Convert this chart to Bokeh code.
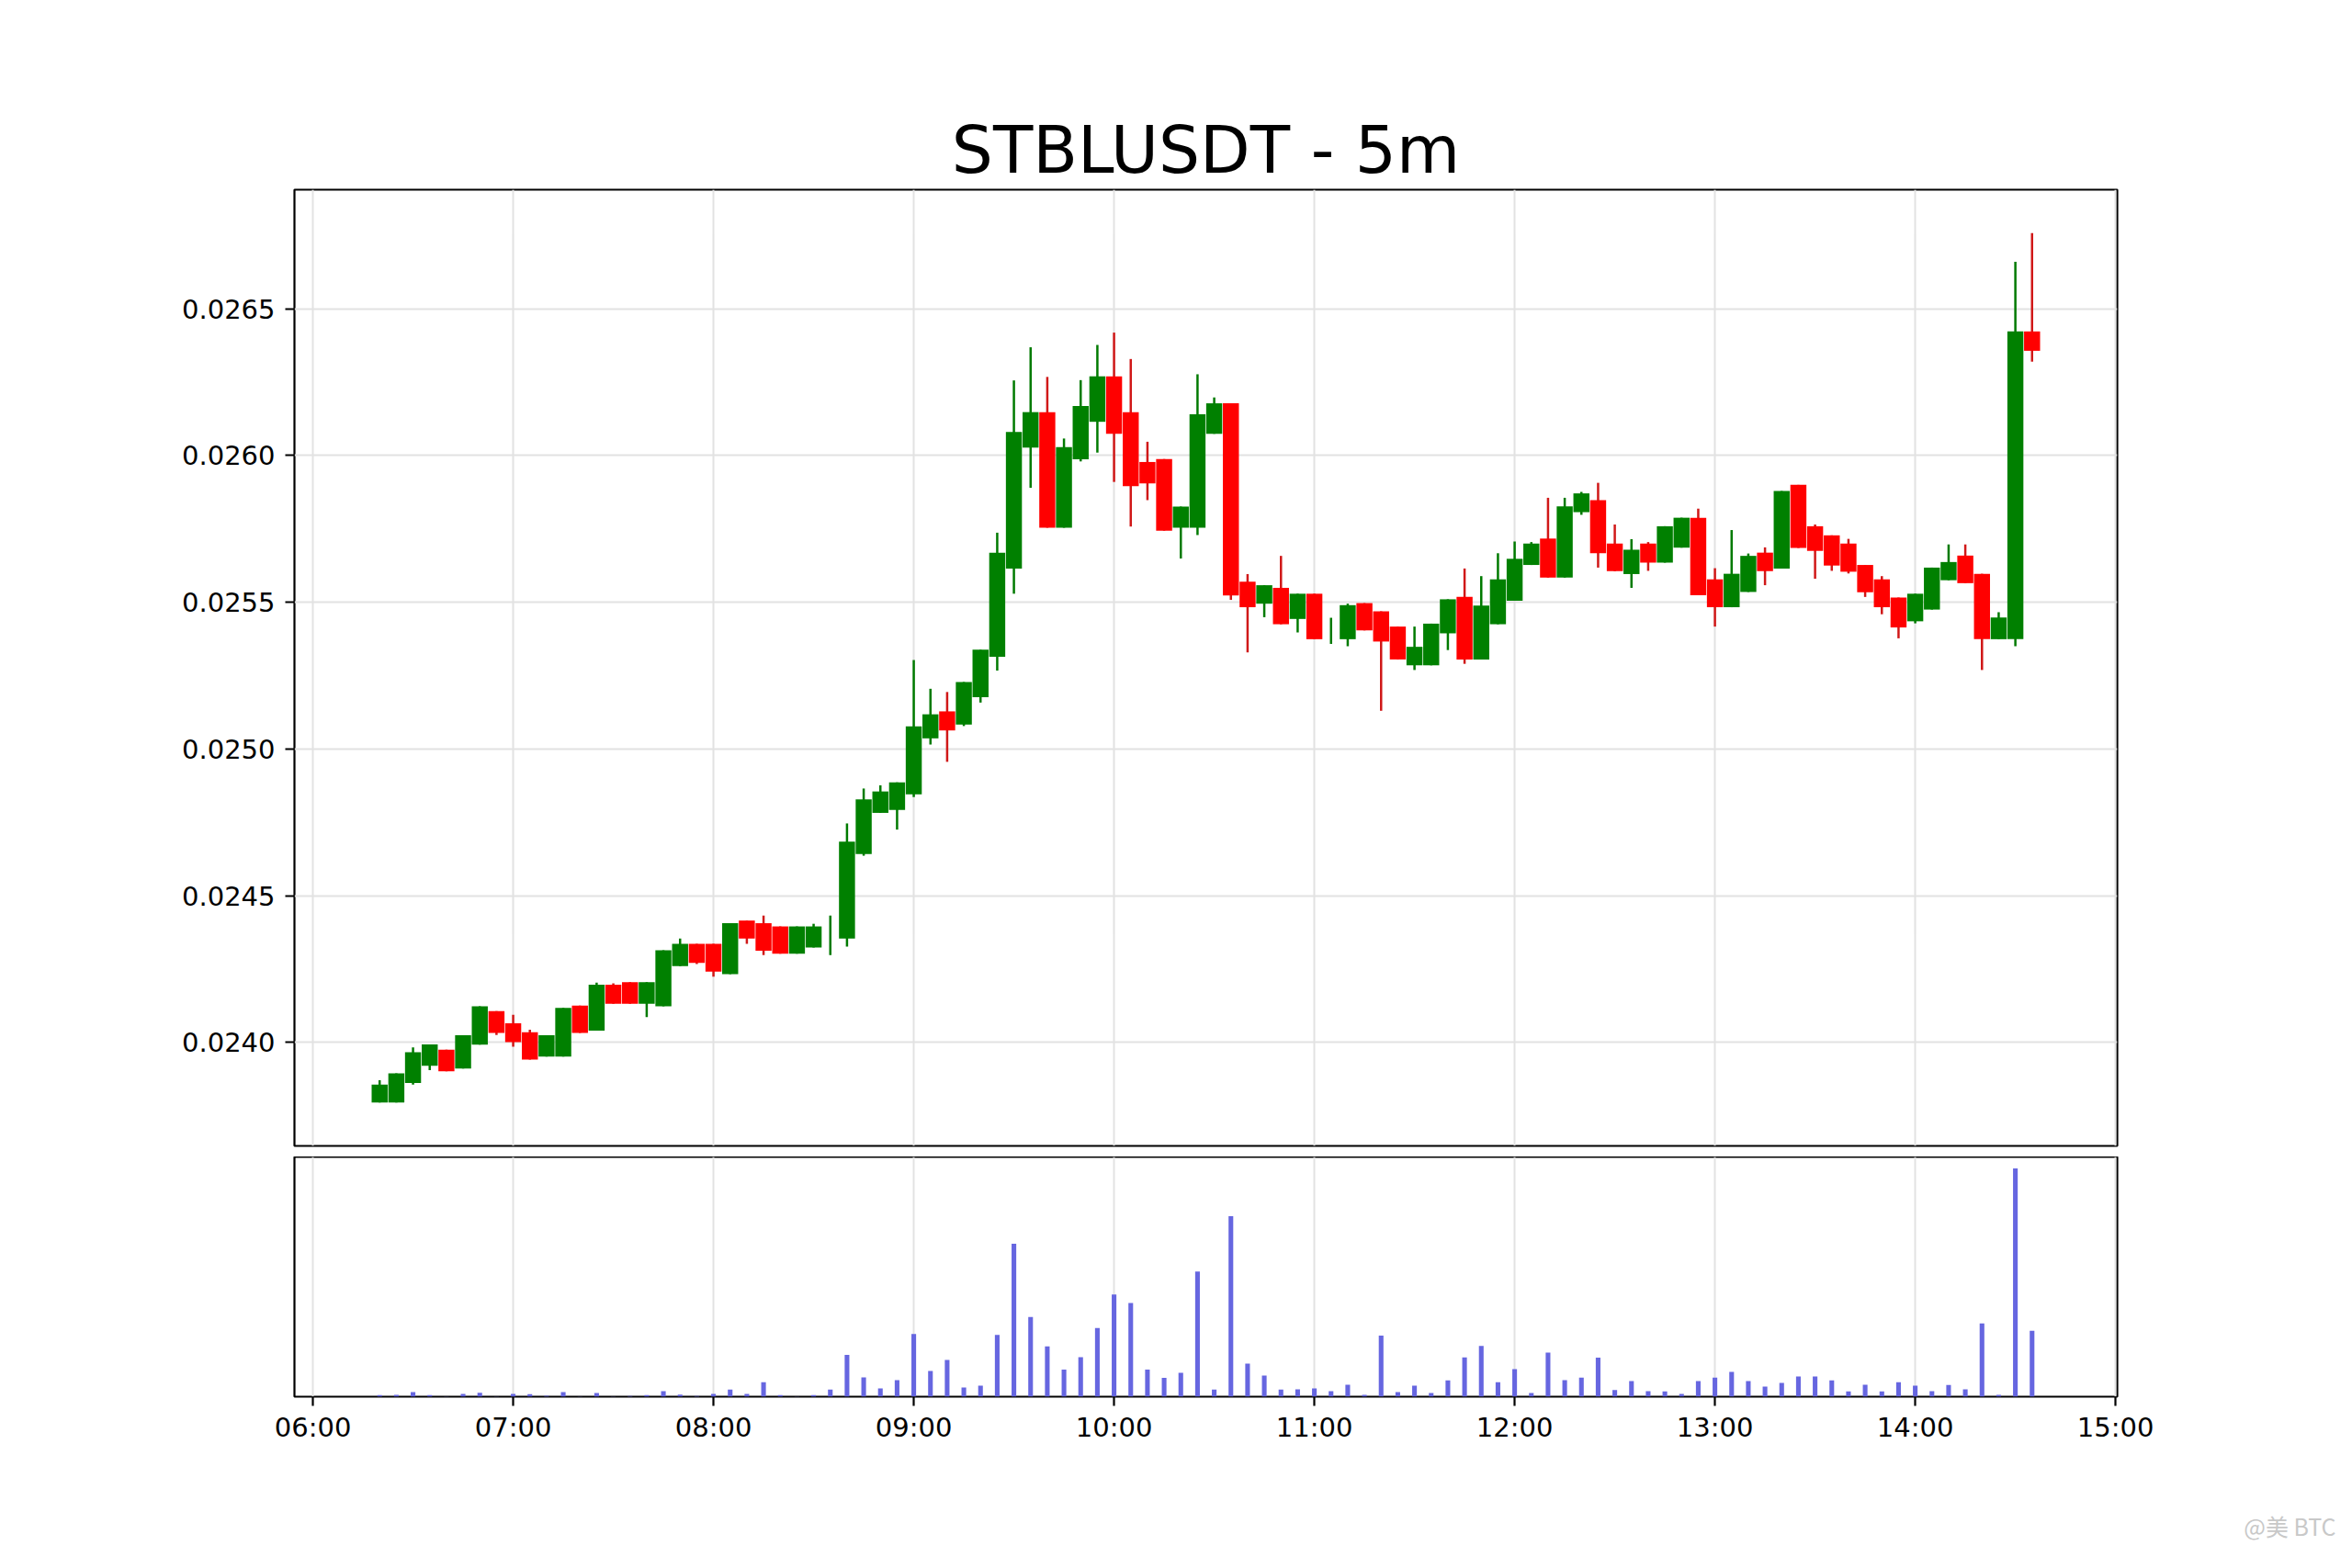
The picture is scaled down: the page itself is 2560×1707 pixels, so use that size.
import pandas as pd
from bokeh.plotting import figure
from bokeh.layouts import column
from bokeh.models import (ColumnDataSource, FixedTicker, DatetimeTickFormatter,
                          PrintfTickFormatter, Range1d, Title, Grid)
from bokeh.embed import file_html
from bokeh.resources import INLINE

# ---------------- data ----------------
title_text = "STBLUSDT - 5m"
start_time = "2025-01-01 06:20"
bar_minutes = 5

open_ = [0.023795, 0.023795, 0.023861, 0.023920, 0.023975, 0.023911, 0.023992, 0.024106, 0.024065, 0.024034,
         0.023951, 0.023951, 0.024125, 0.024040, 0.024196, 0.024205, 0.024131, 0.024123, 0.024260, 0.024336,
         0.024336, 0.024232, 0.024415, 0.024406, 0.024395, 0.024302, 0.024323, 0.024390, 0.024354, 0.024642,
         0.024782, 0.024792, 0.024845, 0.025036, 0.025128, 0.025083, 0.025176, 0.025314, 0.025615, 0.026027,
         0.026148, 0.025754, 0.025987, 0.026115, 0.026270, 0.026148, 0.025978, 0.025988, 0.025754, 0.025754,
         0.026074, 0.026178, 0.025570, 0.025495, 0.025549, 0.025443, 0.025529, 0.025400, 0.025374, 0.025497,
         0.025469, 0.025417, 0.025285, 0.025285, 0.025394, 0.025518, 0.025305, 0.025425, 0.025505, 0.025627,
         0.025717, 0.025584, 0.025807, 0.025848, 0.025700, 0.025596, 0.025700, 0.025635, 0.025686, 0.025788,
         0.025578, 0.025483, 0.025535, 0.025669, 0.025615, 0.025900, 0.025759, 0.025728, 0.025700, 0.025627,
         0.025578, 0.025516, 0.025435, 0.025475, 0.025575, 0.025659, 0.025597, 0.025374, 0.025374, 0.026423]
high_ = [0.023871, 0.023894, 0.023983, 0.023993, 0.023975, 0.024024, 0.024123, 0.024106, 0.024094, 0.024043,
         0.024024, 0.024117, 0.024125, 0.024203, 0.024201, 0.024205, 0.024205, 0.024314, 0.024354, 0.024336,
         0.024336, 0.024406, 0.024415, 0.024432, 0.024395, 0.024395, 0.024404, 0.024432, 0.024746, 0.024865,
         0.024876, 0.024886, 0.025303, 0.025205, 0.025194, 0.025228, 0.025338, 0.025737, 0.026256, 0.026369,
         0.026268, 0.026058, 0.026257, 0.026377, 0.026419, 0.026329, 0.026047, 0.025988, 0.025826, 0.026277,
         0.026198, 0.026178, 0.025596, 0.025558, 0.025658, 0.025529, 0.025529, 0.025447, 0.025495, 0.025497,
         0.025469, 0.025417, 0.025417, 0.025427, 0.025510, 0.025615, 0.025589, 0.025667, 0.025707, 0.025705,
         0.025856, 0.025856, 0.025876, 0.025907, 0.025765, 0.025715, 0.025705, 0.025759, 0.025788, 0.025819,
         0.025616, 0.025746, 0.025666, 0.025687, 0.025879, 0.025900, 0.025765, 0.025728, 0.025716, 0.025627,
         0.025589, 0.025516, 0.025529, 0.025618, 0.025697, 0.025697, 0.025597, 0.025466, 0.026660, 0.026758]
low_ = [0.023795, 0.023795, 0.023856, 0.023905, 0.023901, 0.023911, 0.023992, 0.024025, 0.023985, 0.023941,
        0.023951, 0.023951, 0.024032, 0.024040, 0.024131, 0.024131, 0.024086, 0.024123, 0.024260, 0.024267,
        0.024224, 0.024232, 0.024336, 0.024297, 0.024302, 0.024302, 0.024323, 0.024297, 0.024326, 0.024636,
        0.024782, 0.024725, 0.024836, 0.025015, 0.024956, 0.025078, 0.025158, 0.025267, 0.025529, 0.025890,
        0.025754, 0.025754, 0.025980, 0.026010, 0.025910, 0.025758, 0.025848, 0.025744, 0.025649, 0.025729,
        0.026074, 0.025508, 0.025329, 0.025449, 0.025425, 0.025397, 0.025374, 0.025358, 0.025350, 0.025404,
        0.025130, 0.025305, 0.025269, 0.025285, 0.025337, 0.025290, 0.025305, 0.025425, 0.025505, 0.025627,
        0.025584, 0.025584, 0.025798, 0.025618, 0.025606, 0.025549, 0.025607, 0.025635, 0.025686, 0.025524,
        0.025417, 0.025483, 0.025535, 0.025558, 0.025615, 0.025685, 0.025580, 0.025607, 0.025598, 0.025518,
        0.025459, 0.025377, 0.025428, 0.025475, 0.025575, 0.025565, 0.025269, 0.025374, 0.025350, 0.026320]
close_ = [0.023856, 0.023894, 0.023966, 0.023993, 0.023901, 0.024024, 0.024123, 0.024032, 0.024001, 0.023941,
          0.024024, 0.024117, 0.024032, 0.024196, 0.024131, 0.024131, 0.024205, 0.024314, 0.024336, 0.024271,
          0.024241, 0.024406, 0.024354, 0.024312, 0.024302, 0.024395, 0.024395, 0.024390, 0.024684, 0.024828,
          0.024855, 0.024886, 0.025077, 0.025118, 0.025063, 0.025228, 0.025338, 0.025669, 0.026080, 0.026148,
          0.025754, 0.026029, 0.026169, 0.026270, 0.026074, 0.025896, 0.025905, 0.025744, 0.025826, 0.026141,
          0.026178, 0.025523, 0.025483, 0.025558, 0.025425, 0.025529, 0.025374, 0.025400, 0.025490, 0.025404,
          0.025366, 0.025305, 0.025348, 0.025427, 0.025510, 0.025305, 0.025489, 0.025578, 0.025648, 0.025700,
          0.025584, 0.025827, 0.025871, 0.025667, 0.025606, 0.025679, 0.025635, 0.025759, 0.025788, 0.025524,
          0.025483, 0.025597, 0.025658, 0.025606, 0.025879, 0.025685, 0.025675, 0.025625, 0.025604, 0.025534,
          0.025483, 0.025414, 0.025529, 0.025618, 0.025637, 0.025565, 0.025374, 0.025448, 0.026423, 0.026357]
volume = [5, 6, 15, 5, 1, 9, 13, 1, 9, 8,
          3, 15, 1, 12, 1, 2, 5, 18, 7, 2,
          9, 23, 9, 47, 5, 1, 5, 23, 136, 63,
          27, 54, 204, 84, 120, 30, 36, 201, 498, 260,
          164, 88, 129, 224, 333, 305, 88, 61, 78, 408,
          23, 588, 108, 69, 23, 24, 27, 18, 39, 6,
          199, 15, 36, 12, 53, 128, 165, 47, 90, 12,
          144, 54, 62, 127, 22, 51, 18, 17, 9, 51,
          62, 81, 51, 33, 45, 66, 66, 53, 17, 39,
          17, 47, 36, 18, 38, 24, 239, 6, 744, 215]

hour_ticks = ["06:00", "07:00", "08:00", "09:00", "10:00", "11:00", "12:00", "13:00", "14:00", "15:00"]
price_ticks = [0.0240, 0.0245, 0.0250, 0.0255, 0.0260, 0.0265]
watermark = "@美 BTC"

# ---------------- derived ----------------
times = pd.date_range(start_time, periods=len(close_), freq=f"{bar_minutes}min")
x = [int(v) for v in (times.asi8 // 10**6)]
day = start_time.split(" ")[0]
hour_ms = [int(pd.Timestamp(f"{day} {h}").value // 10**6) for h in hour_ticks]
interval = bar_minutes * 60 * 1000
vol_w = 0.28 * interval

GREEN = "#008000"
RED = "#ff0000"
up = [c >= o for o, c in zip(open_, close_)]
src = ColumnDataSource(dict(
    x=x, open=open_, high=high_, low=low_, close=close_,
    top=[max(o, c) for o, c in zip(open_, close_)],
    bottom=[min(o, c) for o, c in zip(open_, close_)],
    color=[GREEN if u else RED for u in up],
    wick=["#007a00" if u else "#d01818" for u in up],
))
vsrc = ColumnDataSource(dict(x=x, volume=volume))

x_lo = x[0] - vol_w / 2
x_hi = x[-1] + vol_w / 2
span_t = x_hi - x_lo
x_rng = Range1d(x_lo - 0.05 * span_t, x_hi + 0.05 * span_t)
lo, hi = min(low_), max(high_)
span_p = hi - lo
y_rng = Range1d(lo - 0.05 * span_p, hi + 0.05 * span_p)

FONT = "DejaVu Sans"
GRID = "#e2e2e2"

# ---------------- price panel ----------------
p1 = figure(frame_width=1984, frame_height=1041, x_range=x_rng, y_range=y_rng,
            x_axis_type="datetime", x_axis_location=None,
            output_backend="svg", toolbar_location=None, title=title_text,
            min_border_left=320, min_border_right=240, min_border_top=206, min_border_bottom=12)
p1.title.text_font = FONT
p1.title.text_font_size = "71px"
p1.title.text_font_style = "normal"
p1.title.text_color = "black"
p1.title.align = "center"
p1.title.standoff = 4
p1.outline_line_color = "black"
p1.outline_line_width = 2.2
p1.outline_line_alpha = 1.0
p1.background_fill_color = "white"
p1.border_fill_color = "white"

if len(p1.xgrid) == 0:
    p1.add_layout(Grid(dimension=0, ticker=FixedTicker(ticks=hour_ms)), "center")
for g in p1.xgrid:
    g.ticker = FixedTicker(ticks=hour_ms)
    g.grid_line_color = GRID
    g.grid_line_width = 2
for g in p1.ygrid:
    g.ticker = FixedTicker(ticks=price_ticks)
    g.grid_line_color = GRID
    g.grid_line_width = 2

ay = p1.yaxis[0]
ay.ticker = FixedTicker(ticks=price_ticks)
ay.formatter = PrintfTickFormatter(format="%.4f")
ay.major_label_text_font = FONT
ay.major_label_text_font_size = "29px"
ay.major_label_text_color = "black"
ay.major_tick_out = 10
ay.major_tick_in = 0
ay.major_tick_line_width = 2.2
ay.major_tick_line_color = "black"
ay.minor_tick_line_color = None
ay.axis_line_color = None
ay.major_label_standoff = 11

p1.segment(x0="x", y0="high", x1="x", y1="low", line_color="wick", line_width=2.5, source=src)
p1.vbar(x="x", width=0.96 * interval, top="top", bottom="bottom",
        fill_color="color", line_color=None, source=src)

# ---------------- volume panel ----------------
p2 = figure(frame_width=1984, frame_height=261, x_range=x_rng,
            y_range=Range1d(0, 1.05 * max(volume)),
            x_axis_type="datetime", y_axis_location=None,
            output_backend="svg", toolbar_location=None,
            min_border_left=320, min_border_right=240, min_border_top=0, min_border_bottom=179)
p2.outline_line_color = "black"
p2.outline_line_width = 2.2
p2.outline_line_alpha = 1.0
p2.background_fill_color = "white"
p2.border_fill_color = "white"
for g in p2.ygrid:
    g.visible = False
for g in p2.xgrid:
    g.ticker = FixedTicker(ticks=hour_ms)
    g.grid_line_color = GRID
    g.grid_line_width = 2

ax = p2.xaxis[0]
ax.ticker = FixedTicker(ticks=hour_ms)
ax.formatter = DatetimeTickFormatter(hours="%H:%M", hourmin="%H:%M", minutes="%H:%M",
                                     minsec="%H:%M", days="%H:%M")
ax.major_label_text_font = FONT
ax.major_label_text_font_size = "29px"
ax.major_label_text_color = "black"
ax.major_tick_out = 10
ax.major_tick_in = 0
ax.major_tick_line_width = 2.2
ax.major_tick_line_color = "black"
ax.minor_tick_line_color = None
ax.axis_line_color = None
ax.major_label_standoff = 6

p2.vbar(x="x", width=vol_w, top="volume", bottom=0,
        fill_color="#6666e0", line_color=None, source=vsrc)

wm = Title(text=watermark, align="right", offset=-238, standoff=135,
           text_font="Noto Sans CJK SC", text_font_size="25px",
           text_font_style="normal", text_color="#c8c8c8")
p2.add_layout(wm, "below")

layout = column(p1, p2, spacing=0)
open("out.html", "w").write(file_html(layout, INLINE))
